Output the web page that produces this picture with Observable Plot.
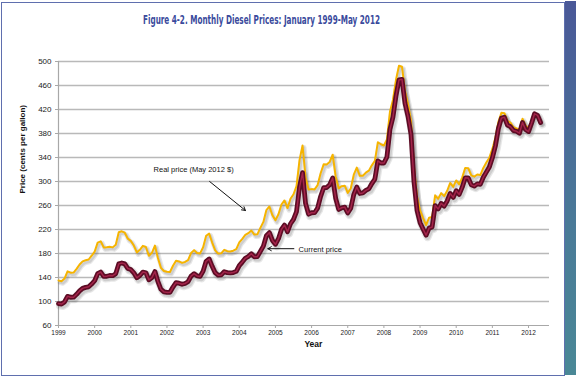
<!DOCTYPE html>
<html>
<head>
<meta charset="utf-8">
<script src="https://cdn.jsdelivr.net/npm/d3@7"></script>
<script src="https://cdn.jsdelivr.net/npm/@observablehq/plot@0.6"></script>
<style>
  html, body { margin: 0; padding: 0; background: #ffffff; }
  #wrap { position: relative; width: 576px; height: 379px; overflow: hidden; background: #fff; }
  #frame { position: absolute; left: 1px; top: 2px; width: 562px; height: 372px; border: 1.5px solid #5f6fae; }
  #bar { position: absolute; left: 565px; top: 1px; width: 11px; height: 374px;
         background: linear-gradient(#4a5898, #4a7a98 60%, #4a8896); }
  #chart { position: absolute; left: 0; top: 0; }
  #title { position: absolute; left: 0; top: 0; }
</style>
</head>
<body>
<div id="wrap">
  <div id="frame"></div>
  <div id="bar"></div>
  <div id="chart"></div>
  <svg id="title" width="576" height="40">
    <text x="143" y="24" textLength="237" lengthAdjust="spacingAndGlyphs"
      font-family="'Liberation Sans Narrow','DejaVu Sans Condensed','Liberation Sans',sans-serif"
      font-weight="bold" font-size="12.5" fill="#3a4a9c">Figure 4-2. Monthly Diesel Prices: January 1999-May 2012</text>
  </svg>
</div>
<script>
// ---- Data (cents per gallon), monthly Jan 1999 – May 2012 ----
const startYear = 1999;
const currentPrice = [
  96.5, 95.8, 99.3, 108.6, 107.1, 107.2, 111.9, 117.6, 121.9, 123.5, 124.5, 129.1,
  134.6, 146.4, 149.2, 141.8, 142.0, 143.4, 143.0, 146.4, 162.7, 164.3, 162.7, 155.0,
  153.2, 147.8, 139.5, 143.3, 149.0, 147.9, 136.1, 139.9, 149.9, 133.3, 120.4, 116.0,
  115.2, 115.4, 124.1, 131.4, 130.5, 128.7, 130.0, 133.0, 142.4, 146.4, 142.6, 141.8,
  150.6, 167.0, 170.8, 158.6, 148.0, 143.8, 144.3, 149.6, 148.1, 147.6, 148.3, 150.2,
  159.9, 165.7, 172.0, 175.0, 179.6, 174.6, 174.7, 183.6, 192.3, 209.6, 214.8, 201.7,
  195.3, 204.7, 220.1, 227.3, 216.3, 229.6, 237.0, 249.9, 290.7, 314.7, 263.5, 245.5,
  247.9, 248.0, 255.6, 275.1, 289.6, 289.9, 294.5, 305.8, 271.9, 253.4, 256.2, 257.3,
  247.5, 255.3, 278.2, 290.7, 280.0, 280.9, 285.3, 287.8, 296.6, 304.0, 334.3, 330.8,
  330.8, 340.8, 386.7, 407.4, 442.2, 469.3, 470.3, 430.4, 408.4, 378.4, 299.1, 251.7,
  231.4, 220.7, 210.5, 222.3, 224.1, 259.9, 254.1, 263.5, 259.0, 267.6, 280.1, 273.5,
  284.6, 278.5, 290.6, 306.1, 305.8, 294.4, 292.3, 296.1, 295.3, 307.1, 315.6, 324.0,
  339.5, 359.2, 388.4, 405.6, 407.0, 394.0, 391.3, 384.9, 383.7, 380.6, 398.4, 386.6,
  383.2, 397.0, 412.8, 410.2, 398.3
];
const realPrice = [
  135.0, 133.8, 138.3, 150.2, 148.1, 148.2, 154.3, 161.7, 166.8, 168.7, 170.0, 176.3,
  183.2, 198.1, 200.3, 190.2, 190.3, 191.1, 190.2, 194.7, 215.3, 217.0, 214.7, 204.7,
  201.1, 193.2, 181.9, 186.1, 192.7, 190.9, 176.2, 181.1, 193.2, 172.4, 156.0, 150.9,
  149.5, 149.2, 159.5, 167.9, 166.8, 164.4, 165.9, 169.1, 180.8, 185.6, 180.7, 180.1,
  190.5, 209.6, 213.1, 198.3, 185.3, 179.9, 180.3, 186.2, 183.8, 183.4, 184.7, 187.3,
  198.4, 204.5, 210.9, 213.9, 218.3, 211.5, 212.0, 222.7, 232.7, 252.3, 258.4, 243.6,
  235.3, 245.3, 261.7, 268.4, 255.7, 271.3, 278.7, 292.4, 336.0, 360.0, 306.5, 286.7,
  287.3, 286.8, 294.0, 313.7, 328.6, 328.3, 332.5, 344.6, 308.0, 288.5, 292.2, 293.0,
  281.0, 288.3, 311.3, 323.2, 309.5, 309.7, 314.7, 318.1, 326.9, 334.4, 365.5, 362.0,
  360.1, 369.9, 416.2, 435.8, 469.1, 492.9, 491.2, 451.4, 428.9, 401.4, 323.6, 275.2,
  251.9, 239.0, 227.4, 239.6, 240.8, 276.9, 271.1, 280.6, 275.6, 284.4, 297.6, 291.1,
  301.8, 295.3, 306.9, 322.7, 322.1, 310.3, 308.1, 311.7, 310.7, 322.7, 331.5, 339.7,
  354.3, 373.0, 399.4, 414.4, 413.8, 401.2, 398.1, 390.5, 388.6, 386.3, 404.7, 393.6,
  388.4, 400.7, 413.5, 409.7, 398.3
];
const yearTicks = [1999, 2000, 2001, 2002, 2003, 2004, 2005, 2006, 2007, 2008, 2009, 2010, 2011, 2012];
const priceTicks = [60, 100, 140, 180, 220, 260, 300, 340, 380, 420, 460, 500];
const gridTicks = [100, 140, 180, 220, 260, 300, 340, 380, 420, 460, 500];
const yLabel = "Price (cents per gallon)";
const xLabel = "Year";
const xLabelAt = [2006.05];
const noteText = ["Real price (May 2012 $)", "Current price"];
const noteX = [2001.63, 2005.64];
const noteY = [320, 187];
const arrowX1 = [2003.18, 2005.51];
const arrowY1 = [300, 188];
const arrowX2 = [2004.17, 2004.79];
const arrowY2 = [251.7, 188];

// ---- Build tables ----
const rows = currentPrice.map((c, i) => ({ t: startYear + i / 12, current: c, real: realPrice[i] }));
const notes = noteText.map((s, i) => ({ s, x: noteX[i], y: noteY[i] }));
const arrows = arrowX1.map((x1, i) => ({ x1, y1: arrowY1[i], x2: arrowX2[i], y2: arrowY2[i] }));

const font = "Arial, 'Liberation Sans', Helvetica, sans-serif";

const chart = Plot.plot({
  width: 576,
  height: 379,
  marginLeft: 58,
  marginRight: 27,
  marginTop: 61,
  marginBottom: 54,
  style: { background: "transparent", fontFamily: font },
  x: { domain: [1999, 2012.58], label: null },
  y: { domain: [60, 500], label: null },
  marks: [
    Plot.ruleY(gridTicks, { stroke: "#b9b9b9", strokeWidth: 1.4 }),
    Plot.ruleY([60], { stroke: "#a8a8a8", strokeWidth: 1.2 }),
    Plot.ruleX([1999], { y1: 60, y2: 500, stroke: "#a8a8a8", strokeWidth: 1.2 }),
    Plot.axisY({ ticks: priceTicks, tickSize: 3, tickPadding: 4, fontSize: 8, stroke: "#a8a8a8", fill: "#222", label: null, tickFormat: d => String(d) }),
    Plot.axisX({ ticks: yearTicks, tickSize: 3, tickPadding: 2, fontSize: 6.5, stroke: "#a8a8a8", fill: "#222", label: null, tickFormat: d => String(d) }),
    Plot.text([yLabel], { frameAnchor: "left", dx: -36, rotate: -90, fontSize: 8, fontWeight: "bold", fill: "#111" }),
    Plot.text([xLabel], { x: xLabelAt, frameAnchor: "bottom", dy: 21, text: d => d, fontSize: 8.5, fontWeight: "bold", fill: "#111" }),
    // faint offset shadows
    Plot.lineY(rows, { x: "t", y: "real", stroke: "#444", strokeOpacity: 0.13, strokeWidth: 5, dx: 1.5, dy: 2 }),
    Plot.lineY(rows, { x: "t", y: "real", stroke: "#444", strokeOpacity: 0.15, strokeWidth: 2.5, dx: 1.5, dy: 2 }),
    Plot.lineY(rows, { x: "t", y: "current", stroke: "#444", strokeOpacity: 0.13, strokeWidth: 8, dx: 1.5, dy: 2 }),
    Plot.lineY(rows, { x: "t", y: "current", stroke: "#444", strokeOpacity: 0.15, strokeWidth: 5.5, dx: 1.5, dy: 2 }),
    // price lines
    Plot.lineY(rows, { x: "t", y: "real", stroke: "#f6b400", strokeWidth: 2 }),
    Plot.lineY(rows, { x: "t", y: "current", stroke: "#5c0c24", strokeWidth: 4.8 }),
    Plot.lineY(rows, { x: "t", y: "current", stroke: "#a3244a", strokeWidth: 1.5 }),
    Plot.arrow(arrows, { x1: "x1", y1: "y1", x2: "x2", y2: "y2", stroke: "#111", strokeWidth: 1, headLength: 6, bend: false }),
    Plot.text(notes, { x: "x", y: "y", text: "s", textAnchor: "start", fontSize: 7.5, fill: "#111" })
  ]
});

document.getElementById("chart").appendChild(chart);
</script>
</body>
</html>
